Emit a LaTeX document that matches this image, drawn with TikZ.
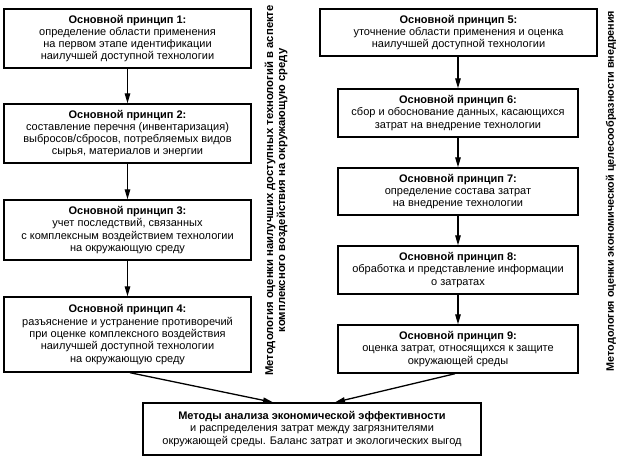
\documentclass[tikz,border=0pt]{standalone}
\usepackage{fontspec}
\setmainfont{Liberation Sans}
\usetikzlibrary{arrows.meta}
\begin{document}
\begin{tikzpicture}[x=1pt,y=-1pt,
  box/.style={draw,line width=1.4pt,align=center,inner sep=0pt,font=\fontsize{11}{12.3}\selectfont},
  arr/.style={line width=1.3pt,-{Triangle[length=10pt,width=5.5pt]}},
  vlabel/.style={rotate=90,align=center,font=\bfseries\fontsize{10.8}{12}\selectfont}]
\useasboundingbox (0,0) rectangle (620,459);
\node[box,minimum width=247pt,minimum height=59pt] (b1) at (127.5,38.5) {\textbf{Основной принцип 1:}\\определение области применения\\на первом этапе идентификации\\наилучшей доступной технологии};
\node[box,minimum width=247pt,minimum height=59pt] (b2) at (127.5,133.5) {\textbf{Основной принцип 2:}\\составление перечня (инвентаризация)\\выбросов/сбросов, потребляемых видов\\сырья, материалов и энергии};
\node[box,minimum width=247pt,minimum height=60pt] (b3) at (127.5,230) {\textbf{Основной принцип 3:}\\учет последствий, связанных\\с комплексным воздействием технологии\\на окружающую среду};
\node[box,minimum width=247pt,minimum height=75pt] (b4) at (127.5,334.5) {\textbf{Основной принцип 4:}\\разъяснение и устранение противоречий\\при оценке комплексного воздействия\\наилучшей доступной технологии\\на окружающую среду};
\node[box,minimum width=277pt,minimum height=47pt] (b5) at (458.5,32.5) {\textbf{Основной принцип 5:}\\уточнение области применения и оценка\\наилучшей доступной технологии};
\node[box,minimum width=240pt,minimum height=48pt] (b6) at (458,113) {\textbf{Основной принцип 6:}\\сбор и обоснование данных, касающихся\\затрат на внедрение технологии};
\node[box,minimum width=240pt,minimum height=47pt] (b7) at (458,191.5) {\textbf{Основной принцип 7:}\\определение состава затрат\\на внедрение технологии};
\node[box,minimum width=240pt,minimum height=48pt] (b8) at (458,270) {\textbf{Основной принцип 8:}\\обработка и представление информации\\о затратах};
\node[box,minimum width=240pt,minimum height=48pt] (b9) at (458,349) {\textbf{Основной принцип 9:}\\оценка затрат, относящихся к защите\\окружающей среды};
\node[box,minimum width=338pt,minimum height=52pt] (b10) at (312,429) {\textbf{Методы анализа экономической эффективности}\\и распределения затрат между загрязнителями\\окружающей среды. Баланс затрат и экологических выгод};
\node[vlabel,font=\bfseries\fontsize{11.3}{12}\selectfont] (l1) at (276,190.5) {Методология оценки наилучших доступных технологий в аспекте\\комплексного воздействия на окружающую среду};
\node[vlabel] (l2) at (611,191) {Методология оценки экономической целесообразности внедрения};
\draw[arr] (b1) -- (b2);
\draw[arr] (b2) -- (b3);
\draw[arr] (b3) -- (b4);
\draw[arr] (b5.south -| b6) -- (b6);
\draw[arr] (b6) -- (b7);
\draw[arr] (b7) -- (b8);
\draw[arr] (b8) -- (b9);
\coordinate (s4) at ([xshift=2.5pt]b4.south);
\coordinate (t4) at ([xshift=-39pt]b10.north);
\coordinate (s9) at ([xshift=-3pt]b9.south);
\coordinate (t9) at ([xshift=23pt]b10.north);
\draw[arr] (s4) -- (t4);
\draw[arr] (s9) -- (t9);
\end{tikzpicture}
\end{document}
